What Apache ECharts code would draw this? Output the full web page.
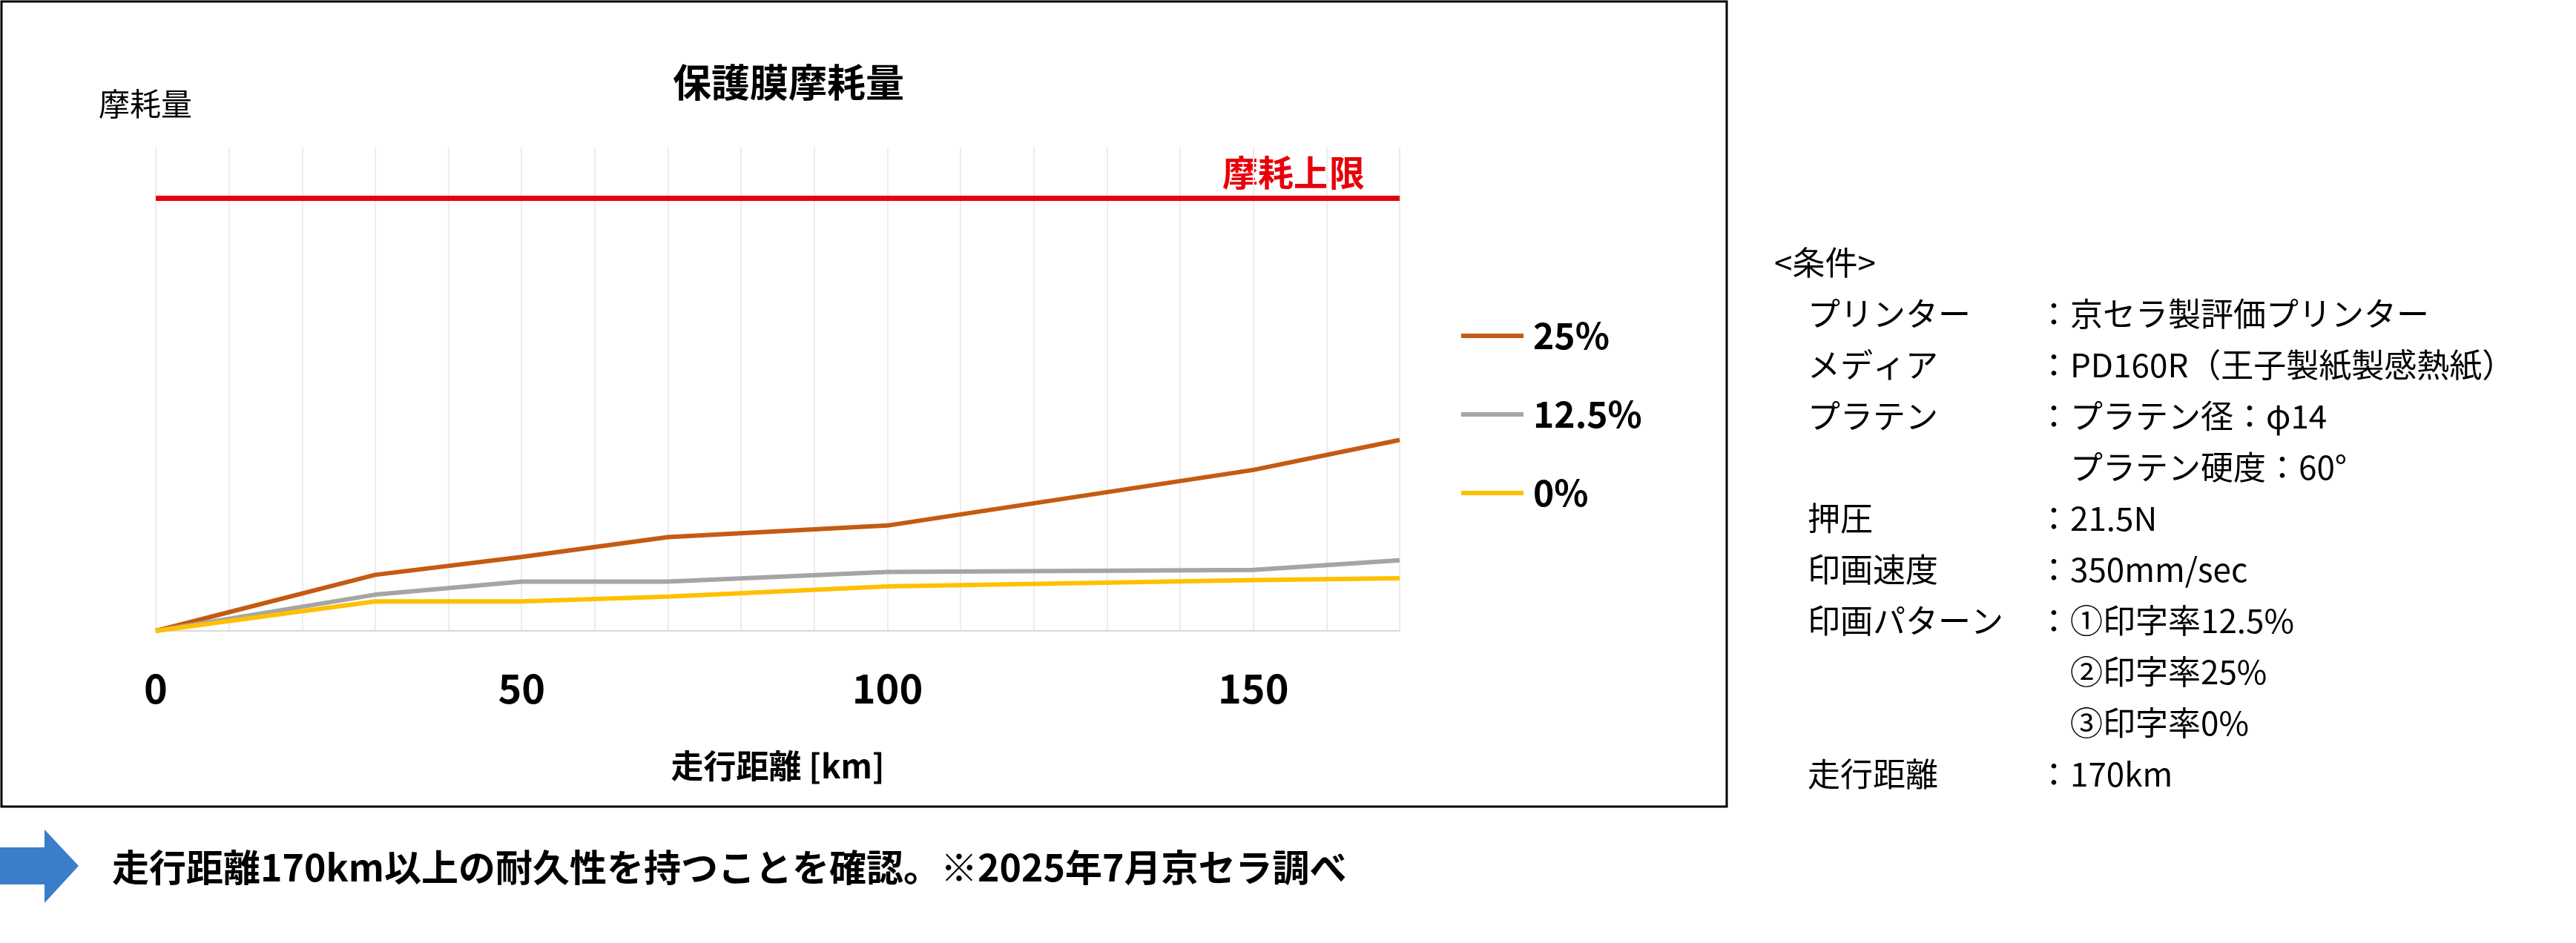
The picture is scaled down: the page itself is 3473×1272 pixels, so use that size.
<!DOCTYPE html>
<html><head><meta charset="utf-8">
<script src="https://cdn.jsdelivr.net/npm/echarts@6/dist/echarts.min.js"></script>
<style>html,body{margin:0;background:#fff}#c{width:3473px;height:1272px}</style>
</head><body><div id="c"></div>
<script>
var distance = [0, 30, 50, 70, 100, 150, 170];
var wear25 = [0, 11.6, 15.3, 19.4, 21.8, 33.3, 39.5];
var wear125 = [0, 7.5, 10.2, 10.2, 12.2, 12.6, 14.6];
var wear0 = [0, 6.1, 6.1, 7.1, 9.2, 10.5, 10.9];
var wearLimit = 89.5;
var xTicks = [0, 50, 100, 150];
var conditions = [
    ['<条件>', ''],
    ['プリンター', '：京セラ製評価プリンター'],
    ['メディア', '：PD160R（王子製紙製感熱紙）'],
    ['プラテン', '：プラテン径：φ14'],
    ['', '　プラテン硬度：60°'],
    ['押圧', '：21.5N'],
    ['印画速度', '：350mm/sec'],
    ['印画パターン', '：①印字率12.5%'],
    ['', '　②印字率25%'],
    ['', '　③印字率0%'],
    ['走行距離', '：170km']
];
var F = '"Noto Sans CJK JP", sans-serif';

function pairs(ys) { return distance.map(function (x, i) { return [x, ys[i]]; }); }

var chart = echarts.init(document.getElementById('c'));
var graphics = [
    {type: 'rect', shape: {x: 2, y: 2, width: 2326, height: 1086}, style: {fill: 'none', stroke: '#000', lineWidth: 3}},
    {type: 'text', x: 1063, y: 111, style: {text: '保護膜摩耗量', font: 'bold 52px ' + F, fill: '#000', align: 'center', verticalAlign: 'middle'}},
    {type: 'text', x: 133, y: 140, style: {text: '摩耗量', font: '42px ' + F, fill: '#000', verticalAlign: 'middle'}},
    {type: 'text', x: 1840, y: 233, style: {text: '摩耗上限', font: 'bold 48px ' + F, fill: '#E8000B', align: 'right', verticalAlign: 'middle'}},
    {type: 'polygon', shape: {points: [[0, 1143], [60, 1143], [60, 1119], [106, 1168], [60, 1218], [60, 1193], [0, 1193]]}, style: {fill: '#3A7DC9'}},
    {type: 'text', x: 151, y: 1170, style: {text: '走行距離170km以上の耐久性を持つことを確認。※2025年7月京セラ調べ', font: 'bold 50px ' + F, fill: '#000', verticalAlign: 'middle'}}
];
conditions.forEach(function (r, i) {
    var y = 354 + i * 69;
    graphics.push({type: 'text', x: i === 0 ? 2392 : 2437, y: y, style: {text: r[0], font: '44px ' + F, fill: '#000', verticalAlign: 'middle'}});
    graphics.push({type: 'text', x: 2747, y: y, style: {text: r[1], font: '44px ' + F, fill: '#000', verticalAlign: 'middle'}});
});

chart.setOption({
    animation: false,
    textStyle: {fontFamily: F},
    grid: {left: 210, right: 3473 - 1887, top: 199, bottom: 1272 - 851},
    legend: {
        orient: 'vertical', left: 1965, top: 424, itemGap: 58,
        icon: 'rect', itemWidth: 84, itemHeight: 6,
        textStyle: {fontSize: 48, fontWeight: 'bold', color: '#000', padding: [0, 0, 0, 8]},
        data: ['25%', '12.5%', '0%']
    },
    xAxis: {
        type: 'value', min: 0, max: 170, interval: 10,
        name: '走行距離 [km]', nameLocation: 'middle', nameGap: 160,
        nameTextStyle: {fontSize: 44, fontWeight: 'bold', color: '#000'},
        axisLine: {lineStyle: {color: '#d9d9d9', width: 2}},
        axisTick: {show: false},
        axisLabel: {fontSize: 54, fontWeight: 'bold', color: '#000', margin: 50,
            formatter: function (v) { return xTicks.indexOf(v) >= 0 ? String(v) : ''; }},
        splitLine: {show: true, lineStyle: {color: '#ececec', width: 2}}
    },
    yAxis: {
        type: 'value', min: 0, max: 100,
        axisLine: {show: false}, axisTick: {show: false}, axisLabel: {show: false},
        splitLine: {show: false}
    },
    series: [
        {name: '25%', type: 'line', data: pairs(wear25), symbol: 'none', lineStyle: {color: '#C55A11', width: 6}, itemStyle: {color: '#C55A11'}},
        {name: '12.5%', type: 'line', data: pairs(wear125), symbol: 'none', lineStyle: {color: '#A5A5A5', width: 6}, itemStyle: {color: '#A5A5A5'}},
        {name: '0%', type: 'line', data: pairs(wear0), symbol: 'none', lineStyle: {color: '#FFC000', width: 6}, itemStyle: {color: '#FFC000'}},
        {name: 'limit', type: 'line', data: [[0, wearLimit], [170, wearLimit]], symbol: 'none',
            lineStyle: {color: '#E8000B', width: 7}}
    ],
    graphic: graphics
});
</script></body></html>
